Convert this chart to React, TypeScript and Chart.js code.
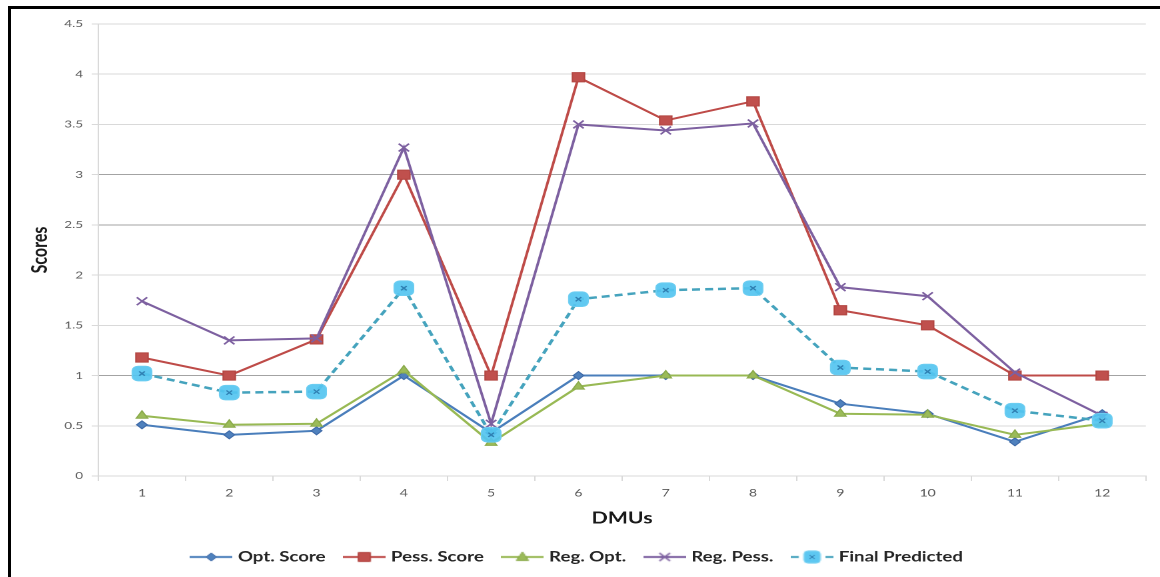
import { useEffect, useRef } from 'react';
import { Chart, registerables } from 'chart.js';

Chart.register(...registerables);

// Decision-making units on the x axis
const dmus = ['1', '2', '3', '4', '5', '6', '7', '8', '9', '10', '11', '12'];

// Scores per DMU
const optScore = [0.51, 0.41, 0.45, 1.0, 0.43, 1.0, 1.0, 1.0, 0.72, 0.62, 0.34, 0.62];
const pessScore = [1.18, 1.0, 1.36, 3.0, 1.0, 3.97, 3.54, 3.73, 1.65, 1.5, 1.0, 1.0];
const regOpt = [0.6, 0.51, 0.52, 1.05, 0.33, 0.89, 1.0, 1.0, 0.62, 0.61, 0.41, 0.52];
const regPess = [1.74, 1.35, 1.37, 3.27, 0.52, 3.5, 3.44, 3.51, 1.88, 1.79, 1.03, 0.6];
const finalPredicted = [1.02, 0.83, 0.84, 1.87, 0.41, 1.76, 1.85, 1.87, 1.08, 1.04, 0.65, 0.55];

// Value axis ticks and the gridlines drawn in a darker grey
const scoreTicks = [0, 0.5, 1, 1.5, 2, 2.5, 3, 3.5, 4, 4.5];
const darkGridValues = [1, 2.5, 3];

const FONT = 'Lato, "Open Sans", "DejaVu Sans", sans-serif';

// Logical drawing size; the canvas is displayed wider than it is drawn
const LOGICAL_W = 862;
const LOGICAL_H = 568;
const DISPLAY_W = 1149;
const DISPLAY_H = 568;

type MarkerKind = 'diamond' | 'square' | 'triangle' | 'cross' | 'rounded';

function makeLegendIcon(kind: MarkerKind, lineColor: string, fill: string, stroke: string, dashed: boolean) {
  const c = document.createElement('canvas');
  c.width = 32;
  c.height = 14;
  const g = c.getContext('2d')!;
  const cx = 16;
  const cy = 7;
  g.lineWidth = 2;
  g.strokeStyle = lineColor;
  g.beginPath();
  if (dashed) {
    g.moveTo(0, cy);
    g.lineTo(6, cy);
    g.moveTo(26, cy);
    g.lineTo(32, cy);
  } else {
    g.moveTo(0, cy);
    g.lineTo(32, cy);
  }
  g.stroke();

  g.fillStyle = fill;
  g.strokeStyle = stroke;
  g.lineWidth = 1;
  g.beginPath();
  if (kind === 'diamond') {
    g.moveTo(cx, cy - 4);
    g.lineTo(cx + 4, cy);
    g.lineTo(cx, cy + 4);
    g.lineTo(cx - 4, cy);
    g.closePath();
    g.fill();
    g.stroke();
  } else if (kind === 'square') {
    g.rect(cx - 4.5, cy - 4.5, 9, 9);
    g.fill();
    g.stroke();
  } else if (kind === 'triangle') {
    g.moveTo(cx, cy - 5);
    g.lineTo(cx + 4.5, cy + 3.5);
    g.lineTo(cx - 4.5, cy + 3.5);
    g.closePath();
    g.fill();
    g.stroke();
  } else if (kind === 'cross') {
    g.lineWidth = 1.4;
    g.moveTo(cx - 4, cy - 4);
    g.lineTo(cx + 4, cy + 4);
    g.moveTo(cx + 4, cy - 4);
    g.lineTo(cx - 4, cy + 4);
    g.stroke();
  } else {
    const r = 3;
    const x0 = cx - 6;
    const y0 = cy - 6;
    const s = 12;
    g.moveTo(x0 + r, y0);
    g.arcTo(x0 + s, y0, x0 + s, y0 + s, r);
    g.arcTo(x0 + s, y0 + s, x0, y0 + s, r);
    g.arcTo(x0, y0 + s, x0, y0, r);
    g.arcTo(x0, y0, x0 + s, y0, r);
    g.closePath();
    g.fill();
    g.stroke();
    g.beginPath();
    g.strokeStyle = '#2f7fb2';
    g.lineWidth = 1;
    g.moveTo(cx - 2, cy - 2);
    g.lineTo(cx + 2, cy + 2);
    g.moveTo(cx + 2, cy - 2);
    g.lineTo(cx - 2, cy + 2);
    g.stroke();
  }
  return c;
}

export default function App() {
  const canvasRef = useRef<HTMLCanvasElement | null>(null);

  useEffect(() => {
    const canvas = canvasRef.current;
    if (!canvas) return;

    const legendIcons = [
      makeLegendIcon('diamond', '#4a7ebb', '#4f81bd', '#3e6aa8', false),
      makeLegendIcon('square', '#be4b48', '#c0504d', '#b24541', false),
      makeLegendIcon('triangle', '#98b954', '#9bbb59', '#8aaa4a', false),
      makeLegendIcon('cross', '#7d60a0', '#8064a2', '#7d60a0', false),
      makeLegendIcon('rounded', '#45a3bd', 'rgba(84,196,240,0.95)', '#6ccdf1', true),
    ];

    const chart = new Chart(canvas, {
      type: 'line',
      data: {
        labels: dmus,
        datasets: [
          {
            label: 'Opt. Score',
            data: optScore,
            borderColor: '#4a7ebb',
            borderWidth: 2,
            pointStyle: 'rectRot',
            pointRadius: 4,
            pointBackgroundColor: '#4f81bd',
            pointBorderColor: '#3e6aa8',
            pointBorderWidth: 1,
            order: 4,
          },
          {
            label: 'Pess. Score',
            data: pessScore,
            borderColor: '#be4b48',
            borderWidth: 2,
            pointStyle: 'rect',
            pointRadius: 6.5,
            pointBackgroundColor: '#c0504d',
            pointBorderColor: '#b24541',
            pointBorderWidth: 1,
            order: 3,
          },
          {
            label: 'Reg. Opt.',
            data: regOpt,
            borderColor: '#98b954',
            borderWidth: 2,
            pointStyle: 'triangle',
            pointRadius: 5,
            pointBackgroundColor: '#9bbb59',
            pointBorderColor: '#8aaa4a',
            pointBorderWidth: 1,
            order: 2,
          },
          {
            label: 'Reg. Pess.',
            data: regPess,
            borderColor: '#7d60a0',
            borderWidth: 2,
            pointStyle: 'crossRot',
            pointRadius: 5.5,
            pointBorderColor: '#7d60a0',
            pointBorderWidth: 1.5,
            order: 1,
          },
          {
            label: 'Final Predicted',
            data: finalPredicted,
            borderColor: '#45a3bd',
            borderWidth: 2.5,
            borderDash: [6, 3.75],
            pointStyle: 'rectRounded',
            pointRadius: 8.5,
            pointBackgroundColor: 'rgba(84,196,240,0.92)',
            pointBorderColor: '#6ccdf1',
            pointBorderWidth: 1,
            order: 0,
          },
          {
            // small cross inside the Final Predicted markers
            label: '',
            data: finalPredicted,
            showLine: false,
            pointStyle: 'crossRot',
            pointRadius: 3,
            pointBorderColor: '#2f7fb2',
            pointBorderWidth: 1.2,
            order: -1,
          },
        ],
      },
      options: {
        responsive: false,
        animation: false,
        devicePixelRatio: 2,
        events: [],
        layout: { padding: { top: 15, right: 10.6, bottom: 3, left: 0 } },
        elements: { line: { tension: 0 } },
        plugins: {
          tooltip: { enabled: false },
          title: { display: false },
          legend: {
            position: 'bottom',
            labels: {
              usePointStyle: true,
              pointStyleWidth: 26,
              boxHeight: 14,
              padding: 16,
              color: '#262626',
              font: { family: FONT, size: 14, weight: 'bold' },
              generateLabels: (ch: Chart) =>
                ch.data.datasets
                  .map((ds: any, i: number) => ({
                    text: ds.label as string,
                    pointStyle: legendIcons[i] as any,
                    fillStyle: 'transparent',
                    strokeStyle: 'transparent',
                    lineWidth: 0,
                    hidden: false,
                    datasetIndex: i,
                    fontColor: '#262626',
                  }))
                  .filter((item: any) => item.text !== ''),
            },
          },
        },
        scales: {
          x: {
            type: 'category',
            offset: true,
            afterFit: (s: any) => {
              s.height = 58;
            },
            grid: {
              display: true,
              offset: true,
              drawOnChartArea: false,
              drawTicks: true,
              tickLength: 5,
              color: '#d9d9d9',
              tickColor: '#d9d9d9',
            },
            border: { display: true, color: '#d9d9d9', width: 1 },
            ticks: {
              color: '#595959',
              font: { family: FONT, size: 10.5 },
              padding: 6,
              maxRotation: 0,
              autoSkip: false,
            },
            title: {
              display: true,
              text: 'DMUs',
              color: '#1a1a1a',
              font: { family: FONT, size: 16, weight: 'bold' },
              padding: { top: 0, bottom: 5.9 },
            },
          },
          y: {
            min: 0,
            max: 4.5,
            afterFit: (s: any) => {
              s.width = 65.5;
            },
            afterBuildTicks: (s: any) => {
              s.ticks = scoreTicks.map((v) => ({ value: v }));
            },
            grid: {
              color: (ctx: any) =>
                darkGridValues.includes(ctx.tick?.value) ? '#a3a3a3' : '#d9d9d9',
              tickColor: '#d9d9d9',
              tickLength: 5,
              lineWidth: 1,
            },
            border: { display: true, color: '#d9d9d9', width: 1 },
            ticks: {
              color: '#595959',
              font: { family: FONT, size: 10 },
              padding: 6.5,
              callback: (v: any) => String(v),
            },
            title: {
              display: true,
              text: 'Scores',
              color: '#1a1a1a',
              font: { family: FONT, size: 16, weight: 'bold' },
              padding: { top: 12.2, bottom: 0 },
            },
          },
        },
      },
    });

    return () => {
      chart.destroy();
    };
  }, []);

  return (
    <div
      style={{
        position: 'fixed',
        left: 8,
        top: 6,
        right: 0,
        bottom: 0,
        borderTop: '3px solid #000',
        borderLeft: '3px solid #000',
        background: '#fff',
        boxSizing: 'border-box',
        overflow: 'hidden',
      }}
    >
      <canvas
        ref={canvasRef}
        width={LOGICAL_W}
        height={LOGICAL_H}
        style={{ display: 'block', width: `${DISPLAY_W}px`, height: `${DISPLAY_H}px` }}
      />
    </div>
  );
}
